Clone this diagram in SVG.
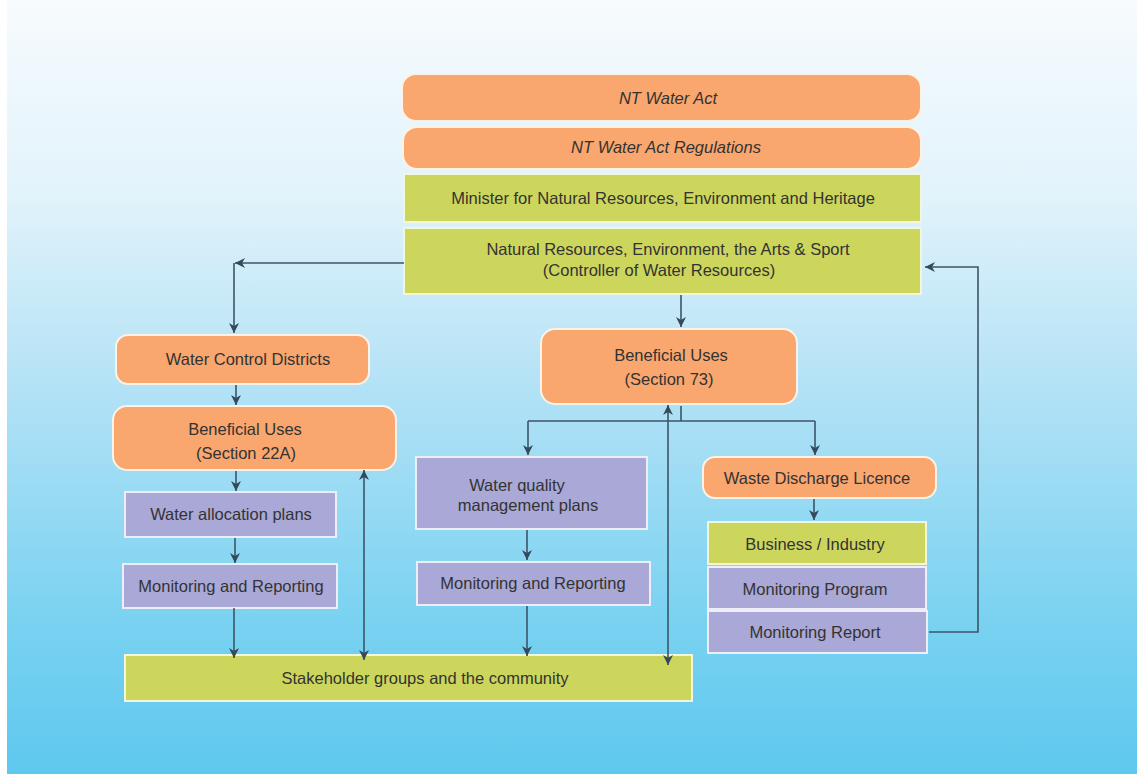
<svg xmlns="http://www.w3.org/2000/svg" width="1137" height="774" viewBox="0 0 1137 774">
<defs>
<linearGradient id="bg" x1="0" y1="0" x2="0" y2="1">
<stop offset="0" stop-color="#f7fbfe"/>
<stop offset="0.25" stop-color="#e2f3fb"/>
<stop offset="0.5" stop-color="#b3e2f6"/>
<stop offset="0.8" stop-color="#7ad2f1"/>
<stop offset="1" stop-color="#5ec8ee"/>
</linearGradient>
<marker id="ah" viewBox="0 0 10 10" refX="10" refY="5" markerWidth="10" markerHeight="10" markerUnits="userSpaceOnUse" orient="auto-start-reverse">
<path d="M0,0 L10,5 L0,10 L3,5 z" fill="#34495a"/>
</marker>
<style>
.or{fill:#f9a66f;stroke:#fdf2e6;stroke-width:2}
.gr{fill:#cdd65c;stroke:#f2f6dc;stroke-width:2}
.pu{fill:#aaa8d6;stroke:#eeeefa;stroke-width:2}
text{font-family:"Liberation Sans",Arial,sans-serif;font-size:16.5px;fill:#333;text-anchor:middle}
.it{font-style:italic}
.c{fill:none;stroke:#3c5568;stroke-width:1.6}
</style>
</defs>
<rect x="0" y="0" width="1137" height="774" fill="#ffffff"/>
<rect x="7" y="0" width="1130" height="774" fill="url(#bg)"/>

<g id="nt-water-act"><rect class="or" x="402" y="74" width="519" height="47" rx="14"/><text class="it" x="668" y="104">NT Water Act</text></g>
<g id="nt-water-act-regs"><rect class="or" x="403" y="127" width="518" height="42" rx="14"/><text class="it" x="666" y="153">NT Water Act Regulations</text></g>
<g id="minister"><rect class="gr" x="404" y="174" width="517" height="48"/><text x="663" y="204">Minister for Natural Resources, Environment and Heritage</text></g>
<g id="nreas"><rect class="gr" x="404" y="228" width="517" height="66"/><text x="668" y="255">Natural Resources, Environment, the Arts &amp; Sport</text><text x="659" y="276">(Controller of Water Resources)</text></g>

<g id="water-control-districts"><rect class="or" x="116" y="335" width="253" height="49" rx="12"/><text x="248" y="365">Water Control Districts</text></g>
<g id="beneficial-22a"><rect class="or" x="113" y="406" width="283" height="64" rx="14"/><text x="245" y="435">Beneficial Uses</text><text x="246" y="459">(Section 22A)</text></g>
<g id="water-allocation"><rect class="pu" x="125" y="492" width="211" height="45"/><text x="231" y="520">Water allocation plans</text></g>
<g id="monitoring-left"><rect class="pu" x="123" y="564" width="214" height="44"/><text x="231" y="592">Monitoring and Reporting</text></g>

<g id="beneficial-73"><rect class="or" x="541" y="329" width="256" height="75" rx="14"/><text x="671" y="361">Beneficial Uses</text><text x="669" y="385">(Section 73)</text></g>
<g id="water-quality"><rect class="pu" x="416" y="457" width="231" height="72"/><text x="517" y="491">Water quality</text><text x="528" y="511">management plans</text></g>
<g id="monitoring-mid"><rect class="pu" x="417" y="562" width="233" height="43"/><text x="533" y="589">Monitoring and Reporting</text></g>

<g id="waste-discharge"><rect class="or" x="703" y="457" width="233" height="41" rx="12"/><text x="817" y="484">Waste Discharge Licence</text></g>
<g id="business"><rect class="gr" x="708" y="522" width="218" height="42"/><text x="815" y="550">Business / Industry</text></g>
<g id="monitoring-program"><rect class="pu" x="708" y="567" width="218" height="42"/><text x="815" y="595">Monitoring Program</text></g>
<g id="monitoring-report"><rect class="pu" x="708" y="611" width="219" height="42"/><text x="815" y="638">Monitoring Report</text></g>

<g id="stakeholders"><rect class="gr" x="125" y="655" width="567" height="46"/><text x="425" y="684">Stakeholder groups and the community</text></g>

<g id="connectors">
<path class="c" d="M404,263 H235" marker-end="url(#ah)"/>
<path class="c" d="M234,263 V333" marker-end="url(#ah)"/>
<path class="c" d="M236,385 V405" marker-end="url(#ah)"/>
<path class="c" d="M236,471 V491" marker-end="url(#ah)"/>
<path class="c" d="M235,538 V563" marker-end="url(#ah)"/>
<path class="c" d="M234,608 V658" marker-end="url(#ah)"/>
<path class="c" d="M364,660 V470" marker-start="url(#ah)" marker-end="url(#ah)"/>
<path class="c" d="M681,295 V327" marker-end="url(#ah)"/>
<path class="c" d="M681,406 V421 M528,421 H815"/>
<path class="c" d="M528,421 V455" marker-end="url(#ah)"/>
<path class="c" d="M815,421 V455" marker-end="url(#ah)"/>
<path class="c" d="M668,665 V405" marker-start="url(#ah)" marker-end="url(#ah)"/>
<path class="c" d="M527,530 V560" marker-end="url(#ah)"/>
<path class="c" d="M527,606 V656" marker-end="url(#ah)"/>
<path class="c" d="M814,499 V520" marker-end="url(#ah)"/>
<path class="c" d="M929,632 H978 V267 H925" marker-end="url(#ah)"/>
</g>
</svg>
